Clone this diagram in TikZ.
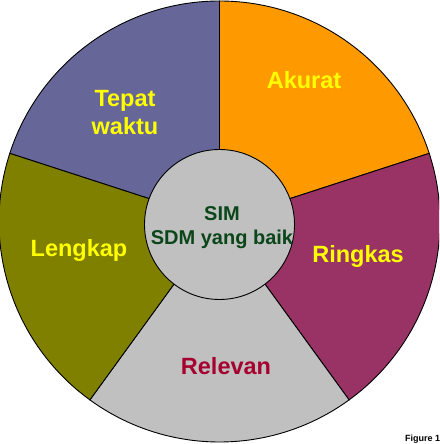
\documentclass[tikz,border=0pt]{standalone}
\usepackage{fontspec}
\setmainfont{Liberation Sans}
\usetikzlibrary{calc}

\definecolor{ungu}{HTML}{666699}
\definecolor{oranye}{HTML}{FF9900}
\definecolor{merah}{HTML}{993366}
\definecolor{abu}{HTML}{C0C0C0}
\definecolor{zaitun}{HTML}{808000}
\definecolor{kuning}{HTML}{FFFF00}
\definecolor{merahtua}{HTML}{A50030}
\definecolor{hijautua}{HTML}{0A4619}

\begin{document}
\begin{tikzpicture}[x=1pt, y=1pt,
  sektor/.style={draw=black, line width=0.9pt},
  teks/.style={font=\bfseries\fontsize{23.5}{28}\selectfont, text=kuning, align=center, inner sep=0pt}]
  % Ukuran
  \def\R{220.5}
  \def\r{75}
  \clip (0,0) rectangle (439,444);
  \coordinate (O) at (219.5,222.5);
  \coordinate (I) at (219.5,219.5);

  % Sektor
  \filldraw[sektor, fill=ungu]   (O) -- ++(90:\R)   arc[start angle=90,   end angle=162,  radius=\R] -- cycle;
  \filldraw[sektor, fill=oranye] (O) -- ++(18:\R)   arc[start angle=18,   end angle=90,   radius=\R] -- cycle;
  \filldraw[sektor, fill=merah]  (O) -- ++(-54:\R)  arc[start angle=-54,  end angle=18,   radius=\R] -- cycle;
  \filldraw[sektor, fill=abu]    (O) -- ++(-126:\R) arc[start angle=-126, end angle=-54,  radius=\R] -- cycle;
  \filldraw[sektor, fill=zaitun] (O) -- ++(162:\R)  arc[start angle=162,  end angle=234,  radius=\R] -- cycle;

  % Lingkaran tengah
  \filldraw[sektor, fill=abu] (I) circle (\r);

  % Teks sektor
  \node[teks, anchor=base] (tepat)   at (125,309) {Tepat\\waktu};
  \node[teks, anchor=base] (akurat)  at (304,355) {Akurat};
  \node[teks, anchor=base] (ringkas) at (358,181) {Ringkas};
  \node[teks, anchor=base, text=merahtua] (relevan) at (226,69) {Relevan};
  \node[teks, anchor=base] (lengkap) at (79,187) {Lengkap};

  % Teks tengah
  \node[teks, anchor=base, text=hijautua, font=\bfseries\fontsize{20}{24}\selectfont] (sim) at (222,199) {SIM\\SDM yang baik};

  % Keterangan
  \node[anchor=base west, inner sep=0pt, font=\bfseries\fontsize{9}{10}\selectfont] (gambar) at (405,2.5) {Figure 1};
\end{tikzpicture}
\end{document}
